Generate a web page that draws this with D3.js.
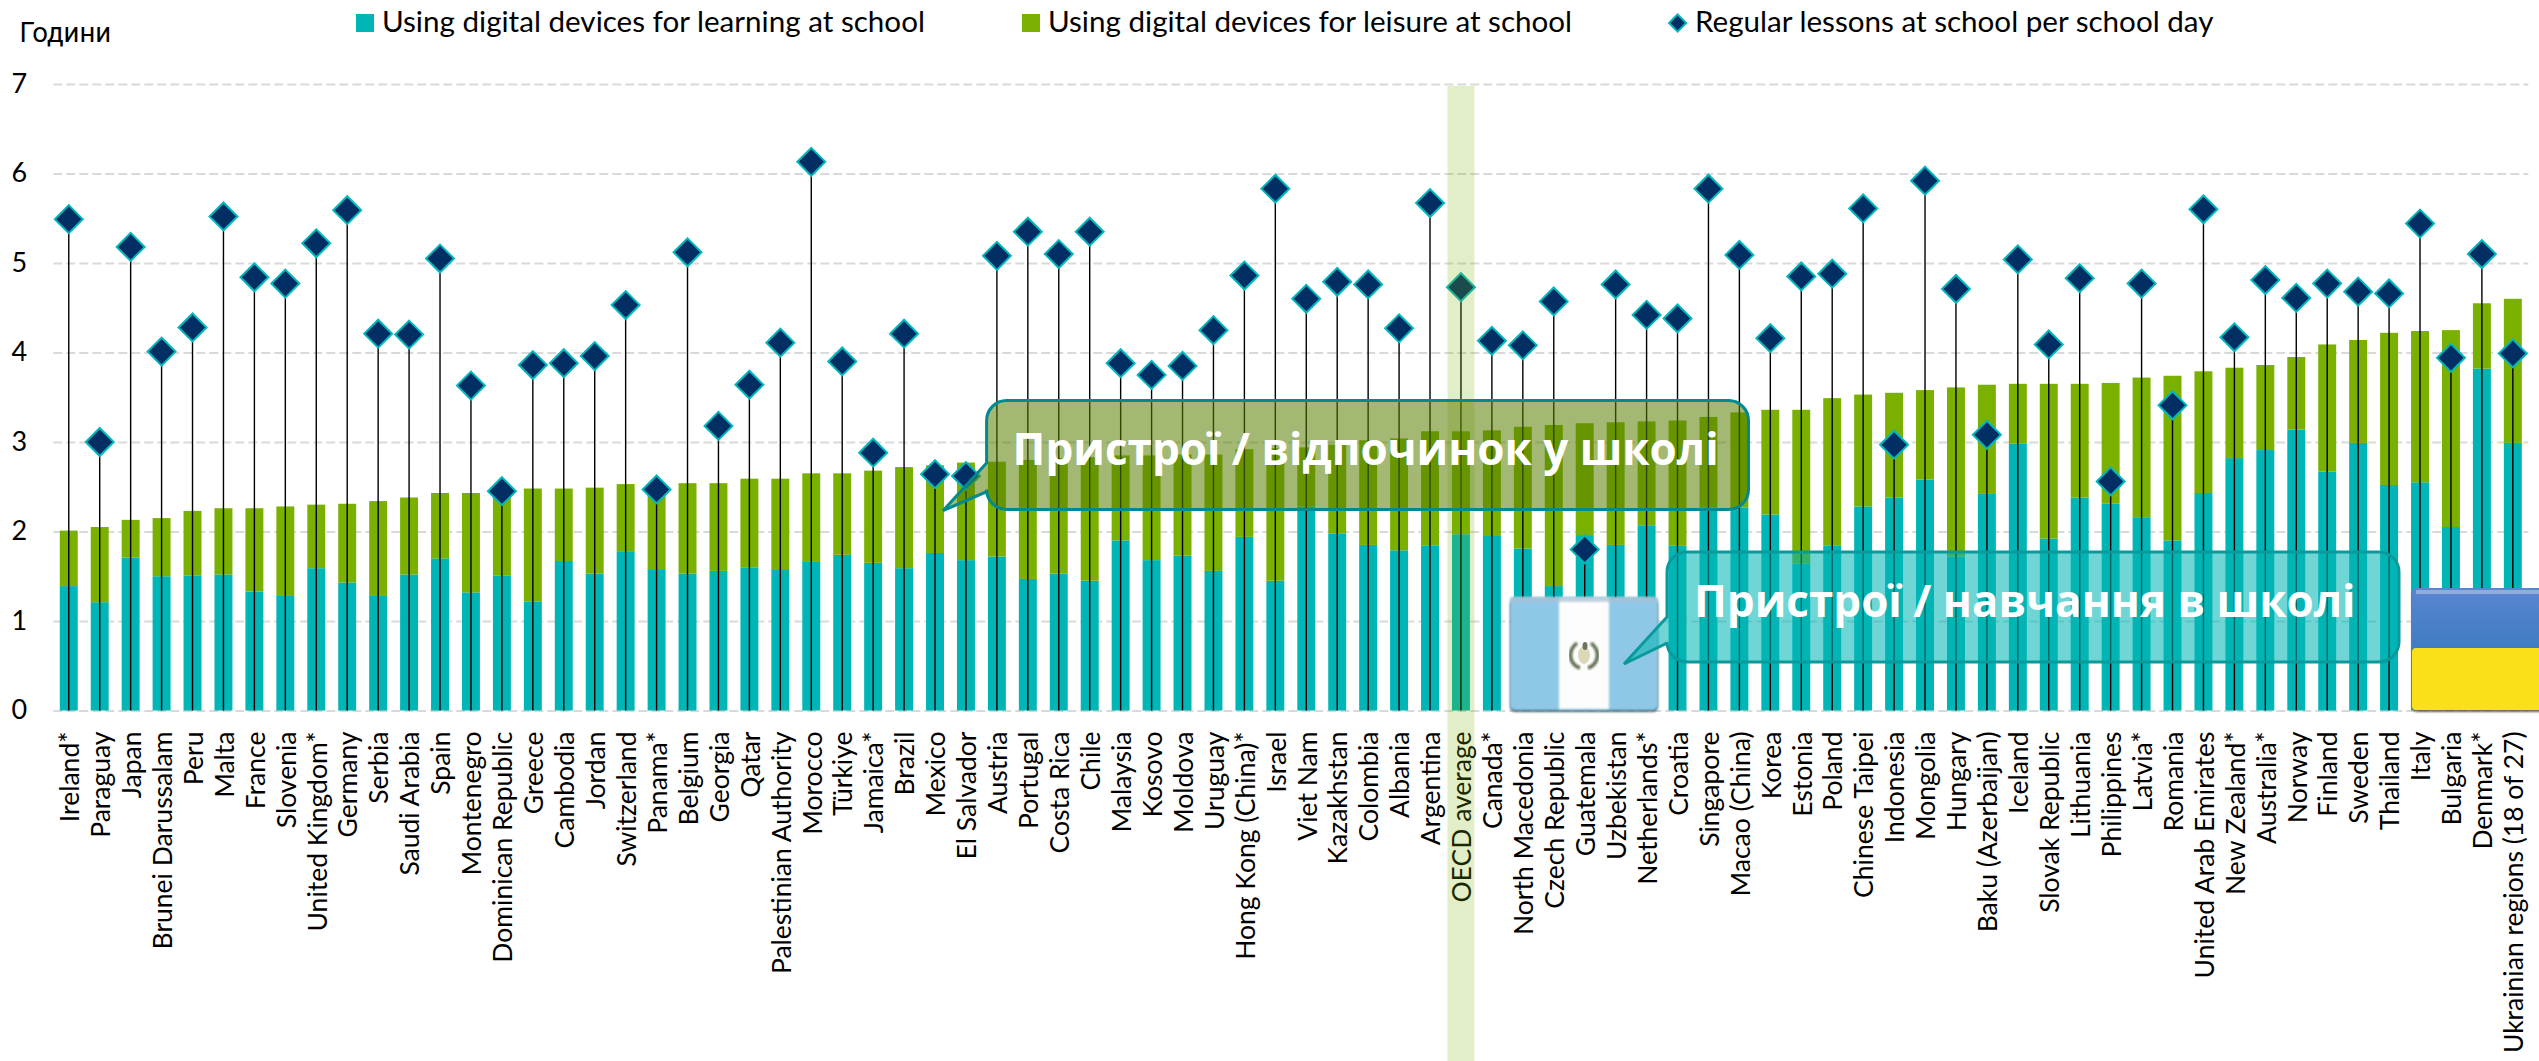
<!DOCTYPE html>
<html>
<head>
<meta charset="utf-8">
<script src="https://cdn.jsdelivr.net/npm/d3@7/dist/d3.min.js"></script>
<style>
   html, body { margin: 0; padding: 0; background: #fff; overflow: hidden; }
   text { font-family: Lato, "Noto Sans", sans-serif; fill: #000; }
   .cyr { font-family: Roboto, "Noto Sans", sans-serif; }
   .callout { font-family: "Open Sans", "Noto Sans", sans-serif; }
   .grid .domain { display: none; }
   .grid line { stroke: #d9d9d9; stroke-width: 2; stroke-dasharray: 9 4; }
   .xaxis .domain, .xaxis line { display: none; }
</style>
</head>
<body>
<div id="chart"></div>
<script>
var categories = ["Ireland*", "Paraguay", "Japan", "Brunei Darussalam", "Peru", "Malta", "France", "Slovenia", "United Kingdom*", "Germany",
   "Serbia", "Saudi Arabia", "Spain", "Montenegro", "Dominican Republic", "Greece", "Cambodia", "Jordan", "Switzerland", "Panama*",
   "Belgium", "Georgia", "Qatar", "Palestinian Authority", "Morocco", "Türkiye", "Jamaica*", "Brazil", "Mexico", "El Salvador",
   "Austria", "Portugal", "Costa Rica", "Chile", "Malaysia", "Kosovo", "Moldova", "Uruguay", "Hong Kong (China)*", "Israel",
   "Viet Nam", "Kazakhstan", "Colombia", "Albania", "Argentina", "OECD average", "Canada*", "North Macedonia", "Czech Republic", "Guatemala",
   "Uzbekistan", "Netherlands*", "Croatia", "Singapore", "Macao (China)", "Korea", "Estonia", "Poland", "Chinese Taipei", "Indonesia",
   "Mongolia", "Hungary", "Baku (Azerbaijan)", "Iceland", "Slovak Republic", "Lithuania", "Philippines", "Latvia*", "Romania", "United Arab Emirates",
   "New Zealand*", "Australia*", "Norway", "Finland", "Sweden", "Thailand", "Italy", "Bulgaria", "Denmark*", "Ukrainian regions (18 of 27)"];

var learning = [1.39, 1.21, 1.71, 1.50, 1.51, 1.52, 1.33, 1.28, 1.59, 1.43,
   1.28, 1.52, 1.70, 1.32, 1.51, 1.22, 1.67, 1.53, 1.78, 1.58,
   1.53, 1.56, 1.60, 1.57, 1.66, 1.74, 1.65, 1.59, 1.76, 1.68,
   1.72, 1.47, 1.53, 1.45, 1.90, 1.68, 1.73, 1.56, 1.94, 1.45,
   2.28, 1.98, 1.85, 1.79, 1.84, 1.97, 1.95, 1.81, 1.39, 1.96,
   1.85, 2.07, 1.84, 2.27, 2.27, 2.19, 1.64, 1.84, 2.28, 2.38,
   2.58, 1.72, 2.42, 2.98, 1.92, 2.38, 2.31, 2.16, 1.90, 2.43,
   2.82, 2.91, 3.14, 2.67, 2.99, 2.52, 2.55, 2.05, 3.82, 2.99];

var leisure = [0.62, 0.84, 0.42, 0.65, 0.72, 0.74, 0.93, 1.00, 0.71, 0.88,
   1.06, 0.86, 0.73, 1.11, 0.92, 1.26, 0.81, 0.96, 0.75, 0.95,
   1.01, 0.98, 0.99, 1.02, 0.99, 0.91, 1.03, 1.13, 0.98, 1.09,
   1.06, 1.33, 1.29, 1.38, 0.95, 1.17, 1.13, 1.30, 0.98, 1.48,
   0.66, 0.99, 1.17, 1.25, 1.28, 1.15, 1.18, 1.36, 1.80, 1.25,
   1.37, 1.16, 1.40, 1.01, 1.06, 1.17, 1.72, 1.65, 1.25, 1.17,
   1.00, 1.89, 1.22, 0.67, 1.73, 1.27, 1.35, 1.56, 1.84, 1.36,
   1.01, 0.95, 0.81, 1.42, 1.15, 1.70, 1.69, 2.20, 0.73, 1.61];

var lessons = [5.49, 3.00, 5.18, 4.01, 4.28, 5.52, 4.84, 4.77, 5.22, 5.59,
   4.21, 4.20, 5.05, 3.63, 2.45, 3.86, 3.88, 3.96, 4.53, 2.47,
   5.12, 3.18, 3.64, 4.11, 6.13, 3.90, 2.88, 4.21, 2.64, 2.62,
   5.08, 5.35, 5.10, 5.35, 3.88, 3.75, 3.85, 4.25, 4.86, 5.83,
   4.60, 4.79, 4.76, 4.27, 5.67, 4.73, 4.13, 4.08, 4.57, 1.80,
   4.76, 4.42, 4.38, 5.83, 5.09, 4.16, 4.85, 4.88, 5.61, 2.97,
   5.92, 4.71, 3.08, 5.04, 4.09, 4.83, 2.56, 4.77, 3.41, 5.60,
   4.17, 4.81, 4.61, 4.77, 4.68, 4.66, 5.44, 3.94, 5.10, 3.99];

var yTicks = [0, 1, 2, 3, 4, 5, 6, 7];
var yLabel = "Години";
var legendLabels = ["Using digital devices for learning at school", "Using digital devices for leisure at school", "Regular lessons at school per school day"];
var calloutLeisure = "Пристрої / відпочинок у школі";
var calloutLearning = "Пристрої / навчання в школі";
var highlight = "OECD average";

var width = 2539, height = 1061;
var tealColor = "#00b5b5", greenColor = "#7ab000", navyColor = "#022f63", markerStroke = "#00b8bd";

var svg = d3.select("#chart").append("svg")
   .attr("width", width)
   .attr("height", height)
   .style("display", "block");

var defs = svg.append("defs");
var blur = defs.append("filter").attr("id", "soft");
blur.append("feGaussianBlur").attr("stdDeviation", 0.9);

var uaTop = defs.append("linearGradient").attr("id", "uaBlue").attr("x1", 0).attr("y1", 0).attr("x2", 0).attr("y2", 1);
uaTop.append("stop").attr("offset", "0%").attr("stop-color", "#5a86d0");
uaTop.append("stop").attr("offset", "100%").attr("stop-color", "#3f7cc4");

var xScale = d3.scaleBand()
   .domain(categories)
   .range([53.3, 2528.3])
   .paddingInner(0.42)
   .paddingOuter(0.21);

var yScale = d3.scaleLinear()
   .domain([0, 7])
   .range([710.5, 84]);

// gridlines come from the y axis
var yAxis = d3.axisLeft(yScale)
   .tickValues(yTicks)
   .tickFormat(d3.format("d"))
   .tickSize(-(xScale.range()[1] - xScale.range()[0]))
   .tickPadding(22);

var gY = svg.append("g")
   .attr("class", "grid")
   .attr("transform", "translate(53.3,0)")
   .call(yAxis);

gY.selectAll("text")
   .attr("font-size", 27)
   .attr("text-anchor", "middle")
   .attr("x", -34)
   .attr("dy", "0.3em");

// stacked bars
var rows = categories.map(function (c, i) {
   return { category: c, learning: learning[i], leisure: leisure[i], lessons: lessons[i] };
});
var stack = d3.stack().keys(["learning", "leisure"]);
var colors = { learning: tealColor, leisure: greenColor };

svg.append("g").selectAll("g")
   .data(stack(rows))
   .enter().append("g")
   .attr("fill", function (s) { return colors[s.key]; })
   .selectAll("rect")
   .data(function (s) { return s; })
   .enter().append("rect")
   .attr("x", function (d) { return xScale(d.data.category); })
   .attr("width", xScale.bandwidth())
   .attr("y", function (d) { return yScale(d[1]); })
   .attr("height", function (d) { return yScale(d[0]) - yScale(d[1]); });

// stems from the zero line to each marker
svg.append("g").selectAll("line")
   .data(rows)
   .enter().append("line")
   .attr("x1", function (d) { return xScale(d.category) + xScale.bandwidth() / 2; })
   .attr("x2", function (d) { return xScale(d.category) + xScale.bandwidth() / 2; })
   .attr("y1", yScale(0))
   .attr("y2", function (d) { return yScale(d.lessons); })
   .attr("stroke", "#000")
   .attr("stroke-width", 1.4);

var diamond = d3.symbol().type(d3.symbolSquare).size(390);

svg.append("g").selectAll("path")
   .data(rows)
   .enter().append("path")
   .attr("d", diamond)
   .attr("transform", function (d) {
      return "translate(" + (xScale(d.category) + xScale.bandwidth() / 2) + "," + yScale(d.lessons) + ") rotate(45)";
   })
   .attr("fill", navyColor)
   .attr("stroke", markerStroke)
   .attr("stroke-width", 2);

// category labels
var xAxis = d3.axisBottom(xScale).tickSize(0);
var gX = svg.append("g")
   .attr("class", "xaxis")
   .attr("transform", "translate(0," + yScale(0) + ")")
   .call(xAxis);

gX.selectAll("text")
   .attr("font-size", 26.5)
   .attr("text-anchor", "end")
   .attr("transform", "rotate(-90)")
   .attr("x", -21)
   .attr("y", 1)
   .attr("dy", "0.35em");

// highlight band over the OECD column
svg.append("rect")
   .attr("x", xScale(highlight) + xScale.bandwidth() / 2 - 13.5)
   .attr("y", 86)
   .attr("width", 27)
   .attr("height", height - 86)
   .attr("fill", greenColor)
   .attr("fill-opacity", 0.22);

// legend
var legend = svg.append("g").attr("font-size", 29.6);
legend.append("rect").attr("x", 356).attr("y", 14).attr("width", 18).attr("height", 18).attr("fill", tealColor);
legend.append("text").attr("x", 382).attr("y", 32).text(legendLabels[0]);
legend.append("rect").attr("x", 1022).attr("y", 14).attr("width", 18).attr("height", 18).attr("fill", greenColor);
legend.append("text").attr("x", 1048).attr("y", 32).text(legendLabels[1]);
legend.append("path")
   .attr("d", d3.symbol().type(d3.symbolSquare).size(148))
   .attr("transform", "translate(1677.6,23) rotate(45)")
   .attr("fill", navyColor)
   .attr("stroke", markerStroke)
   .attr("stroke-width", 2);
legend.append("text").attr("x", 1695).attr("y", 32).text(legendLabels[2]);

svg.append("text")
   .attr("class", "cyr")
   .attr("x", 19.5)
   .attr("y", 42)
   .attr("font-size", 27.5)
   .text(yLabel);

// flags
function drawGuatemala(x, y, w, h) {
   var g = svg.append("g");
   g.append("rect").attr("x", x).attr("y", y + 3).attr("width", w).attr("height", h - 3).attr("rx", 5)
      .attr("fill", "#4e6f80").attr("filter", "url(#soft)");
   g.append("rect").attr("x", x).attr("y", y).attr("width", w).attr("height", h - 2).attr("rx", 5)
      .attr("fill", "#8fc8e6").attr("filter", "url(#soft)");
   g.append("rect").attr("x", x + 49).attr("y", y + 1).attr("width", 50).attr("height", h - 4)
      .attr("fill", "#fdfdfd").attr("filter", "url(#soft)");
   g.append("rect").attr("x", x).attr("y", y).attr("width", w).attr("height", 5)
      .attr("fill", "#a9bfd0").attr("fill-opacity", 0.7).attr("filter", "url(#soft)");
   // emblem
   var cx = x + 74, cy = y + 58;
   g.append("path")
      .attr("d", "M" + (cx - 7) + "," + (cy - 12) + " C" + (cx - 17) + "," + (cy - 4) + " " + (cx - 15) + "," + (cy + 9) + " " + (cx - 4) + "," + (cy + 13))
      .attr("fill", "none").attr("stroke", "#5c6b4a").attr("stroke-width", 3.5).attr("filter", "url(#soft)");
   g.append("path")
      .attr("d", "M" + (cx + 7) + "," + (cy - 12) + " C" + (cx + 17) + "," + (cy - 4) + " " + (cx + 15) + "," + (cy + 9) + " " + (cx + 4) + "," + (cy + 13))
      .attr("fill", "none").attr("stroke", "#5c6b4a").attr("stroke-width", 3.5).attr("filter", "url(#soft)");
   g.append("ellipse").attr("cx", cx).attr("cy", cy).attr("rx", 6).attr("ry", 9).attr("fill", "#dcd9b8");
   g.append("ellipse").attr("cx", cx + 1).attr("cy", cy - 9).attr("rx", 2.5).attr("ry", 4).attr("fill", "#6b7560");
}

function drawUkraine(x, y, w, h) {
   var g = svg.append("g");
   g.append("rect").attr("x", x).attr("y", y + 2).attr("width", w + 10).attr("height", h - 1).attr("rx", 5)
      .attr("fill", "#6a6a50").attr("filter", "url(#soft)");
   g.append("rect").attr("x", x).attr("y", y).attr("width", w + 10).attr("height", 62).attr("rx", 4)
      .attr("fill", "url(#uaBlue)");
   g.append("rect").attr("x", x).attr("y", y + 60).attr("width", w + 10).attr("height", h - 61).attr("rx", 4)
      .attr("fill", "#f9e017");
   g.append("rect").attr("x", x + 4).attr("y", y + 2).attr("width", w).attr("height", 4)
      .attr("fill", "#9db8e0").attr("fill-opacity", 0.8);
}

drawGuatemala(1510, 597, 148, 115);
drawUkraine(2412, 588, 127, 123);

// callouts with a tail, drawn as one path
function drawCallout(x0, y0, x1, y1, r, tip, base0, base1, fill, stroke, label, labelX, labelY, fontSize) {
   var p = d3.path();
   p.moveTo(x0 + r, y0);
   p.lineTo(x1 - r, y0);
   p.arcTo(x1, y0, x1, y0 + r, r);
   p.lineTo(x1, y1 - r);
   p.arcTo(x1, y1, x1 - r, y1, r);
   p.lineTo(x0 + r, y1);
   p.arcTo(x0, y1, x0, y1 - r, r);
   p.lineTo(x0, base1);
   p.lineTo(tip[0], tip[1]);
   p.lineTo(x0, base0);
   p.lineTo(x0, y0 + r);
   p.arcTo(x0, y0, x0 + r, y0, r);
   p.closePath();
   svg.append("path")
      .attr("d", p.toString())
      .attr("fill", fill)
      .attr("stroke", stroke)
      .attr("stroke-width", 3);
   svg.append("text")
      .attr("class", "callout")
      .attr("x", labelX)
      .attr("y", labelY)
      .attr("font-size", fontSize)
      .attr("font-weight", "bold")
      .style("fill", "#fff")
      .text(label);
}

drawCallout(986.6, 400.5, 1748.5, 509.5, 20, [943, 510.7], 463, 491.7,
   "rgba(87,127,0,0.55)", "#008a90", calloutLeisure, 1012.6, 465, 44);
drawCallout(1667, 552, 2399, 662, 20, [1624, 664], 617, 643,
   "rgba(0,182,180,0.56)", "#0a9a9c", calloutLearning, 1694, 617, 44);
</script>
</body>
</html>
